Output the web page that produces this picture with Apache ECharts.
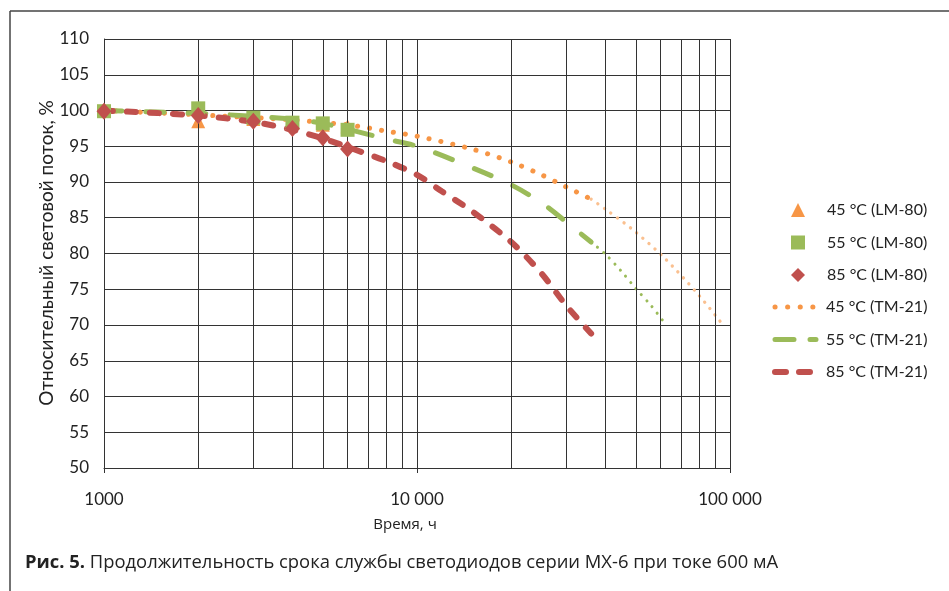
<!DOCTYPE html>
<html>
<head>
<meta charset="utf-8">
<script src="https://cdn.jsdelivr.net/npm/echarts@6/dist/echarts.min.js"></script>
<style>html,body{margin:0;padding:0;background:#fff}#c{width:949px;height:591px}</style>
</head>
<body>
<div id="c"></div>
<script>
// ---- data ----
const xTickValues = [1000, 10000, 100000];
const xTickLabels = ['1000', '10 000', '100 000'];
const minorGrid = [2000, 3000, 4000, 5000, 6000, 7000, 8000, 9000, 20000, 30000, 40000, 50000, 60000, 70000, 80000, 90000];

const lmHours = [1000, 2000, 3000, 4000, 5000, 6000];
const lm45 = [100.0, 98.5, 98.8, 98.3, 98.0, 97.8];
const lm55 = [99.9, 100.3, 99.0, 98.3, 98.2, 97.3];
const lm85 = [99.9, 99.3, 98.5, 97.5, 96.2, 94.6];

const tmHours = [1000, 2000, 3000, 4000, 5000, 6000, 8000, 10000, 15000, 20000, 25000, 30000, 36000];
const tm45 = [100.0, 99.4, 99.0, 98.7, 98.3, 98.0, 97.1, 96.4, 94.6, 92.8, 91.0, 89.3, 87.6];
const tm55 = [100.0, 99.6, 99.2, 98.8, 98.2, 97.4, 96.0, 95.0, 92.0, 89.6, 87.1, 84.4, 81.6];
const tm85Hours = [1000, 2000, 3000, 4000, 5000, 6000, 8000, 10000, 12000, 15000, 20000, 25000, 30000, 36000];
const tm85 = [100.0, 99.3, 98.4, 97.3, 96.1, 94.9, 92.9, 91.0, 88.7, 85.9, 81.6, 77.2, 72.7, 68.8];

const ext45Hours = [36000, 40000, 49000, 61000, 78000, 95000];
const ext45 = [87.6, 86.2, 83.3, 79.6, 74.6, 70.0];
const ext55Hours = [36000, 40000, 45000, 50000, 56000, 62000];
const ext55 = [81.6, 79.9, 77.5, 75.1, 72.7, 70.2];

const names = ['45 °C (LM-80)', '55 °C (LM-80)', '85 °C (LM-80)', '45 °C (TM-21)', '55 °C (TM-21)', '85 °C (TM-21)'];
const caption = ['Рис. 5.', ' Продолжительность срока службы светодиодов серии MX-6 при токе 600 мА'];
const xName = 'Время, ч';
const yName = 'Относительный световой поток, %';

// ---- helpers ----
const zip = (xs, ys) => xs.map((x, i) => [x, ys[i]]);
const ORANGE = '#F79646', GREEN = '#9BBB59', RED = '#C0504D', LORANGE = '#FAC090';
const FONT = 'Lato';
const legendText = {fontFamily: FONT, fontSize: 16, color: '#222'};
const noSymbol = {color: 'rgba(0,0,0,0)', borderWidth: 0, opacity: 0};

const chart = echarts.init(document.getElementById('c'), null, {renderer: 'canvas'});
chart.setOption({
  animation: false,
  backgroundColor: '#fff',
  grid: {left: 104, top: 39, width: 626, height: 429, containLabel: false},
  xAxis: {
    type: 'log', logBase: 10, min: 1000, max: 100000,
    axisLine: {show: true, lineStyle: {color: '#333', width: 1}},
    axisTick: {show: true, length: 5, lineStyle: {color: '#333'}},
    axisLabel: {
      margin: 23, fontFamily: FONT, fontSize: 17, color: '#222',
      formatter: v => { const i = xTickValues.indexOf(Math.round(v)); return i >= 0 ? xTickLabels[i] : ''; }
    },
    splitLine: {show: true, lineStyle: {color: '#333', width: 1}}
  },
  yAxis: {
    type: 'value', min: 50, max: 110, interval: 5,
    axisLine: {show: true, lineStyle: {color: '#333', width: 1}},
    axisTick: {show: false},
    axisLabel: {margin: 15, fontFamily: FONT, fontSize: 17, color: '#222'},
    splitLine: {show: true, lineStyle: {color: '#333', width: 1}}
  },
  legend: [
    {
      orient: 'vertical', left: 791, top: 202, padding: 0,
      itemWidth: 14, itemHeight: 14, itemGap: 16.5,
      textStyle: Object.assign({padding: [0, 0, 0, 17]}, legendText),
      data: [
        {name: names[0], icon: 'triangle'},
        {name: names[1], icon: 'rect'},
        {name: names[2], icon: 'diamond'}
      ]
    },
    {
      orient: 'vertical', left: 772, top: 299, padding: 0,
      itemWidth: 41, itemHeight: 14, itemGap: 16.5,
      textStyle: Object.assign({padding: [0, 0, 0, 5]}, legendText),
      data: [
        {name: names[3], itemStyle: noSymbol, lineStyle: {width: 5, type: [0.1, 12.5], cap: 'round'}},
        {name: names[4], itemStyle: noSymbol, lineStyle: {width: 5, type: [19, 16], cap: 'round'}},
        {name: names[5], itemStyle: noSymbol, lineStyle: {width: 6, type: [11, 13], cap: 'round'}}
      ]
    }
  ],
  graphic: [
    {type: 'line', shape: {x1: 10, y1: 11, x2: 949, y2: 11}, style: {stroke: '#444', lineWidth: 1.5}, silent: true},
    {type: 'line', shape: {x1: 10, y1: 11, x2: 10, y2: 591}, style: {stroke: '#444', lineWidth: 1.5}, silent: true},
    {type: 'text', x: 47, y: 253, rotation: Math.PI / 2,
      style: {text: yName, fontFamily: FONT, fontSize: 19, fill: '#222', align: 'center', verticalAlign: 'middle'}},
    {type: 'text', x: 405, y: 525,
      style: {text: xName, fontFamily: 'Open Sans', fontSize: 15, fill: '#222', align: 'center', verticalAlign: 'middle'}},
    {type: 'text', x: 25, y: 563,
      style: {
        text: '{b|' + caption[0] + '}{r|' + caption[1] + '}', verticalAlign: 'middle',
        rich: {
          b: {fontFamily: 'Open Sans', fontWeight: 'bold', fontSize: 18.4, fill: '#222'},
          r: {fontFamily: 'Open Sans', fontSize: 18.4, fill: '#222'}
        }
      }}
  ],
  series: [
    {type: 'line', name: 'grid', data: [], silent: true, z: 1,
      markLine: {silent: true, symbol: 'none', label: {show: false},
        lineStyle: {color: '#333', width: 1, type: 'solid'},
        data: minorGrid.map(v => ({xAxis: v}))}},
    {type: 'line', name: 'ext45', data: zip(ext45Hours, ext45), smooth: 0.3, symbol: 'none', z: 3,
      lineStyle: {color: LORANGE, width: 3.3, type: [0.1, 8], cap: 'round'}},
    {type: 'line', name: 'ext55', data: zip(ext55Hours, ext55), smooth: 0.3, symbol: 'none', z: 3,
      lineStyle: {color: GREEN, width: 3, type: [0.1, 8], cap: 'round'}},
    {type: 'line', name: names[3], data: zip(tmHours, tm45), smooth: 0.3, symbol: 'none', z: 3,
      color: ORANGE, lineStyle: {color: ORANGE, width: 5, type: [0.1, 12], cap: 'round'}},
    {type: 'line', name: names[4], data: zip(tmHours, tm55), smooth: 0.3, symbol: 'none', z: 3,
      color: GREEN, lineStyle: {color: GREEN, width: 5, type: [18, 24], cap: 'round'}},
    {type: 'line', name: names[5], data: zip(tm85Hours, tm85), smooth: 0.3, symbol: 'none', z: 3,
      color: RED, lineStyle: {color: RED, width: 6, type: [9, 14], cap: 'round'}},
    {type: 'scatter', name: names[0], data: zip(lmHours, lm45), symbol: 'triangle', symbolSize: 14, z: 4,
      itemStyle: {color: ORANGE, opacity: 1}},
    {type: 'scatter', name: names[1], data: zip(lmHours, lm55), symbol: 'rect', symbolSize: 14, z: 5,
      itemStyle: {color: GREEN, opacity: 1}},
    {type: 'scatter', name: names[2], data: zip(lmHours, lm85), symbol: 'diamond', symbolSize: [15, 17], z: 6,
      itemStyle: {color: RED, opacity: 1}}
  ]
});
</script>
</body>
</html>
